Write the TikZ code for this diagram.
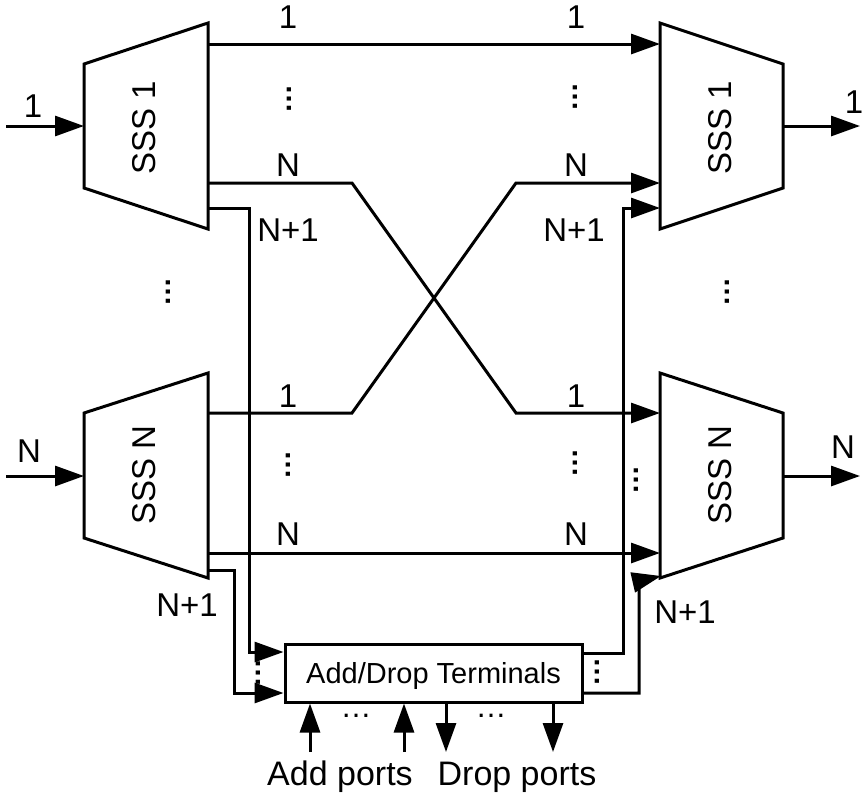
\documentclass[tikz,border=0pt]{standalone}
\usepackage{fontspec}
\setmainfont{Liberation Sans}
\usetikzlibrary{arrows.meta}
\begin{document}
\begin{tikzpicture}[x=1pt,y=-1pt,
  wire/.style={line width=3pt},
  feed/.style={wire,-{Triangle[length=29pt,width=20pt]}},
  sss/.style={line width=3pt},
  lbl/.style={font=\fontsize{33}{36}\selectfont, inner sep=0pt, anchor=base},
  sname/.style={font=\fontsize{33}{36}\selectfont, inner sep=0pt, rotate=90},
  vdot/.style={font=\fontsize{29}{30}\selectfont\bfseries, inner sep=0pt, rotate=90},
  hdot/.style={font=\fontsize{31}{32}\selectfont, inner sep=0pt},
  term/.style={draw, line width=3pt, minimum width=297pt, minimum height=58pt,
    inner sep=0pt, text height=21pt, text depth=0pt,
    font=\fontsize{29}{32}\selectfont}
]
\useasboundingbox (0,0) rectangle (862,796);

% ---- selective switches (trapezoids) ----
\draw[sss] (84,64) -- (208,23) -- (208,229) -- (84,188) -- cycle;
\draw[sss] (660,23) -- (783,64) -- (783,188) -- (660,229) -- cycle;
\draw[sss] (84,413) -- (208,373) -- (208,578) -- (84,538) -- cycle;
\draw[sss] (660,373) -- (783,413) -- (783,538) -- (660,578) -- cycle;

\node[sname] (s1l) at (144,128) {SSS 1};
\node[sname] (s1r) at (720,128) {SSS 1};
\node[sname] (sNl) at (144,475) {SSS N};
\node[sname] (sNr) at (720,475) {SSS N};

% ---- port coordinates ----
\coordinate (inA) at (6,126);    \coordinate (L1i) at (84,126);
\coordinate (R1o) at (783,126);  \coordinate (outA) at (860,126);
\coordinate (inB) at (6,476);    \coordinate (LNi) at (84,476);
\coordinate (RNo) at (783,476);  \coordinate (outB) at (860,476);

\coordinate (L1a) at (208,44);   \coordinate (R1a) at (660,44);
\coordinate (L1n) at (208,183);  \coordinate (R1n) at (660,183);
\coordinate (L1x) at (208,208);  \coordinate (R1x) at (660,208);
\coordinate (LNa) at (208,413);  \coordinate (RNa) at (660,413);
\coordinate (LNn) at (208,553);  \coordinate (RNn) at (660,553);
\coordinate (LNx) at (208,570);  \coordinate (RNx) at (661,576);

% ---- add/drop block ----
\node[term] (adt) at (433.5,673) {Add/Drop Terminals};

% ---- external in/out ----
\draw[feed] (inA) -- (L1i);
\draw[feed] (R1o) -- (outA);
\draw[feed] (inB) -- (LNi);
\draw[feed] (RNo) -- (outB);

% ---- express paths ----
\draw[feed] (L1a) -- (R1a);
\draw[feed] (L1n) -- (352,183) -- (516,413) -- (RNa);
\draw[feed] (LNa) -- (352,413) -- (516,183) -- (R1n);
\draw[feed] (LNn) -- (RNn);

% ---- drop paths ----
\draw[feed] (L1x) -- (249,208) -- (249,652) -- (adt.west |- 0,652);
\draw[feed] (LNx) -- (234,570) -- (234,693) -- (adt.west |- 0,693);

% ---- add paths ----
\draw[feed] (adt.east |- 0,653) -- (623,653) -- (623,208) -- (R1x);
\draw[feed] (adt.east |- 0,693) -- (639,693) -- (639,581) -- (RNx);

% ---- local ports ----
\draw[feed] (310,752) -- (adt.south -| 310,0);
\draw[feed] (404,752) -- (adt.south -| 404,0);
\draw[feed] (adt.south -| 446,0) -- (446,752);
\draw[feed] (adt.south -| 553,0) -- (553,752);

% ---- labels ----
\node[lbl] (in1l) at (33,117) {1};
\node[lbl] (out1l) at (854,113) {1};
\node[lbl] (inNl) at (29,462) {N};
\node[lbl] (outNl) at (843,458) {N};

\node[lbl] (t1a) at (288,28) {1};
\node[lbl] (t1b) at (576,28) {1};
\node[lbl] (tNa) at (288,176) {N};
\node[lbl] (tNb) at (576,176) {N};
\node[lbl] (tPa) at (288,241) {N+1};
\node[lbl] (tPb) at (574,241) {N+1};
\node[lbl] (b1a) at (288,407) {1};
\node[lbl] (b1b) at (576,407) {1};
\node[lbl] (bNa) at (288,545) {N};
\node[lbl] (bNb) at (576,545) {N};
\node[lbl] (bPa) at (187,616) {N+1};
\node[lbl] (bPb) at (685,623) {N+1};

\node[lbl, font=\fontsize{34}{36}\selectfont] (addl) at (340,785) {Add ports};
\node[lbl, font=\fontsize{34}{36}\selectfont] (dropl) at (517,785) {Drop ports};

% ---- ellipses ----
\node[vdot] (d1) at (289,99) {…};
\node[vdot] (d2) at (575,97) {…};
\node[vdot] (d3) at (168,292) {…};
\node[vdot] (d4) at (727,292) {…};
\node[vdot] (d5) at (288,465) {…};
\node[vdot] (d6) at (575,463) {…};
\node[vdot] (d7) at (636,480) {…};
\node[vdot] (d8) at (258,673) {…};
\node[vdot] (d9) at (597,672) {…};
\node[hdot] (h1) at (356,716) {…};
\node[hdot] (h2) at (491,716) {…};
\end{tikzpicture}
\end{document}
